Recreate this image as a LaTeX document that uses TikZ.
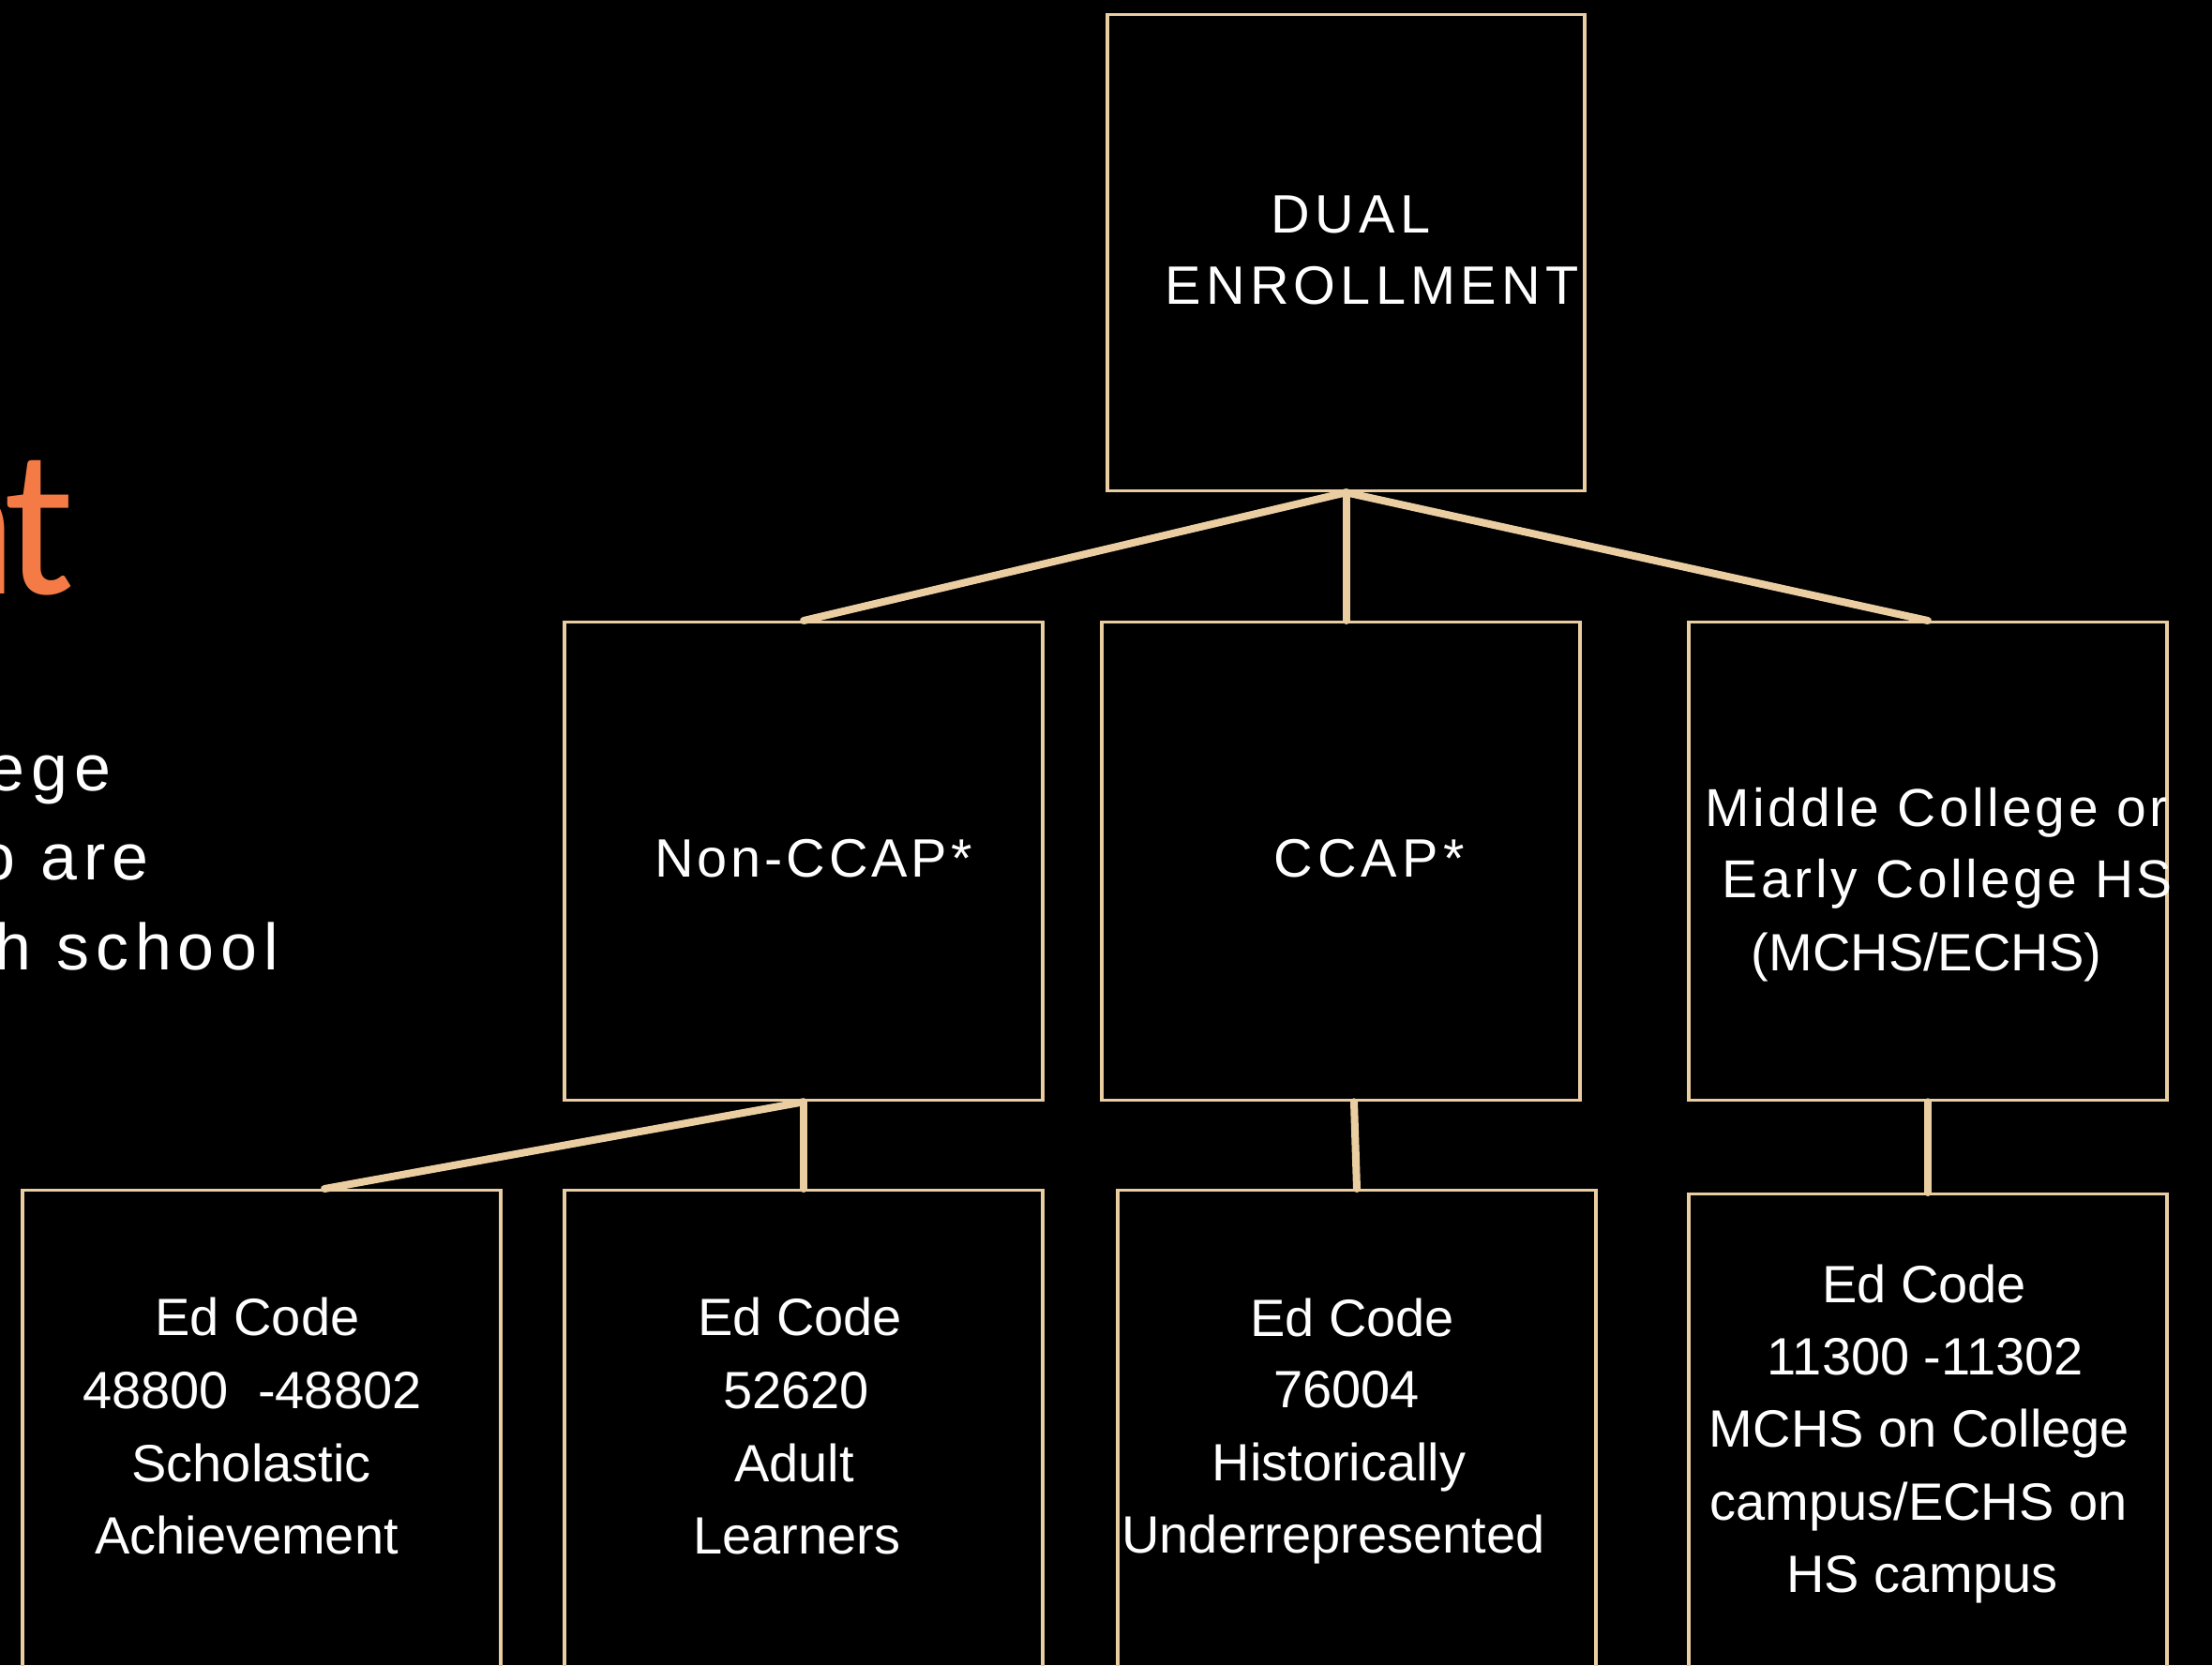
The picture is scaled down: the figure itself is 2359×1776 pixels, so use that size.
\documentclass[tikz,border=0pt]{standalone}
\usepackage{fontspec}
\setmainfont{Liberation Sans}
\newfontfamily\capsfont[LetterSpace=9]{Liberation Sans}
\newfontfamily\ncfont[LetterSpace=6.7]{Liberation Sans}
\newfontfamily\mcfont[LetterSpace=6.3]{Liberation Sans}
\newfontfamily\leadfont[LetterSpace=10]{Liberation Sans}
\newfontfamily\titlefont{Carlito}

\definecolor{tanline}{RGB}{234,206,161}
\definecolor{titleorange}{RGB}{244,123,70}

\tikzstyle{block} = [rectangle, draw=tanline, line width=0.33mm, anchor=north, minimum width=51mm, minimum height=51mm, inner sep=0pt]
\tikzstyle{link} = [draw=tanline, line width=0.8mm, line cap=round]
\tikzstyle{boxtext} = [anchor=base, text=white, inner sep=0pt, font=\fontsize{15.93pt}{19pt}\selectfont]
\tikzstyle{capstext} = [anchor=base, text=white, inner sep=0pt, font=\capsfont\fontsize{16.4pt}{19pt}\selectfont]
\tikzstyle{mctext} = [anchor=base, text=white, inner sep=0pt, font=\mcfont\fontsize{16.2pt}{19pt}\selectfont]

\begin{document}
\begin{tikzpicture}[x=0.1mm, y=-0.1mm]
        \tikzset{
            leadtext/.style = {anchor=base east, text=white, inner sep=0pt, font=\leadfont\fontsize{19.9pt}{24pt}\selectfont},
            titletext/.style = {anchor=base east, text=titleorange, inner sep=0pt, font=\titlefont\fontsize{64pt}{66pt}\selectfont}
        }
        \useasboundingbox (0,0) rectangle (2359,1776);
        \fill[black] (0,0) rectangle (2359,1776);
        \clip (0,0) rectangle (2359,1776);

        % Slide text cut off at the left edge
        \node[titletext] (title) at (81,633) {n\kern-1.4mm t};
        \node[leadtext] (lead1) at (119,843) {ege};
        \node[leadtext] (lead2) at (159,938) {o are};
        \node[leadtext] (lead3) at (298,1034) {h school};

        % Top box
        \node[block, minimum width=50.9mm, minimum height=50.85mm] (dual) at (1435.5,13.5) {};
        \node[capstext] (dual1) at (1440.5,248) {DUAL};
        \node[capstext] (dual2) at (1463,324) {ENROLLMENT};

        % Second row
        \node[block] (noncc) at (857,662) {};
        \node[block] (ccap) at (1430,662) {};
        \node[block] (mchs) at (2056,662) {};
        \node[capstext, font=\ncfont\fontsize{16.4pt}{19pt}\selectfont] (nonccl) at (867.5,935) {Non-CCAP*};
        \node[capstext] (ccapl) at (1460,935) {CCAP*};
        \node[mctext] (mchs1) at (2065,881) {Middle College or};
        \node[mctext] (mchs2) at (2077,957.5) {Early College HS};
        \node[boxtext] (mchs3) at (2054.5,1035) {(MCHS/ECHS)};

        % Third row, running off the bottom
        \node[block, minimum height=53mm] (sa) at (279,1268) {};
        \node[block, minimum height=53mm] (al) at (857,1268) {};
        \node[block, minimum height=53mm] (hu) at (1447,1268) {};
        \node[block, minimum height=53mm] (mc) at (2056,1272) {};

        \foreach \cx/\cy/\txt [count=\i] in {274.5/1424/Ed Code, 269/1502/{48800~~-48802}, 268/1580/Scholastic, 263/1657/Achievement}
            \node[boxtext] (sa\i) at (\cx,\cy) {\txt};
        \foreach \cx/\cy/\txt [count=\i] in {853/1424/Ed Code, 849/1502/52620, 847/1580/Adult, 850/1657/Learners}
            \node[boxtext] (al\i) at (\cx,\cy) {\txt};
        \foreach \cx/\cy/\txt [count=\i] in {1442/1425/Ed Code, 1436/1501/76004, 1428/1579/Historically, 1422/1656/Underrepresented}
            \node[boxtext] (hu\i) at (\cx,\cy) {\txt};
        \foreach \cx/\cy/\txt [count=\i] in {2052/1389/Ed Code, 2053.5/1466/{11300 -11302}, 2047/1543.5/MCHS on College, 2046/1621/{campus/ECHS on}, 2050/1698.5/HS campus}
            \node[boxtext] (mc\i) at (\cx,\cy) {\txt};

        % Connectors
        \draw[link] (dual.south) -- (noncc.north);
        \draw[link] (dual.south) -- (dual.south |- ccap.north);
        \draw[link] (dual.south) -- (mchs.north);
        \draw[link] (noncc.south) -- ([xshift=6.7mm]sa.north);
        \draw[link] (noncc.south) -- (al.north);
        \draw[link] ([xshift=1.4mm]ccap.south) -- (hu.north);
        \draw[link] (mchs.south) -- (mc.north);
\end{tikzpicture}
\end{document}
